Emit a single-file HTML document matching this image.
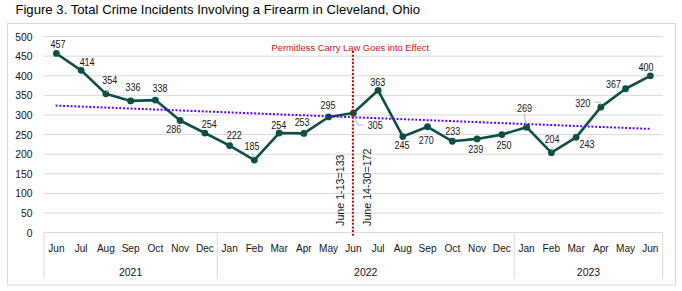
<!DOCTYPE html><html><head><meta charset="utf-8"><style>html,body{margin:0;padding:0;background:#fff;width:682px;height:291px;overflow:hidden}svg{display:block}text{font-family:"Liberation Sans",sans-serif}</style></head><body>
<svg width="682" height="291" viewBox="0 0 682 291">
<rect x="0" y="0" width="682" height="291" fill="#fff"/>
<text x="15.4" y="14" font-size="13" fill="#000" textLength="404.7" lengthAdjust="spacingAndGlyphs">Figure 3. Total Crime Incidents Involving a Firearm in Cleveland, Ohio</text>
<rect x="7.5" y="23.5" width="668" height="261.5" fill="none" stroke="#d9d9d9" stroke-width="1"/>
<line x1="44.0" y1="213.00" x2="662.7" y2="213.00" stroke="#d9d9d9" stroke-width="1"/>
<line x1="44.0" y1="193.40" x2="662.7" y2="193.40" stroke="#d9d9d9" stroke-width="1"/>
<line x1="44.0" y1="173.80" x2="662.7" y2="173.80" stroke="#d9d9d9" stroke-width="1"/>
<line x1="44.0" y1="154.20" x2="662.7" y2="154.20" stroke="#d9d9d9" stroke-width="1"/>
<line x1="44.0" y1="134.60" x2="662.7" y2="134.60" stroke="#d9d9d9" stroke-width="1"/>
<line x1="44.0" y1="115.00" x2="662.7" y2="115.00" stroke="#d9d9d9" stroke-width="1"/>
<line x1="44.0" y1="95.40" x2="662.7" y2="95.40" stroke="#d9d9d9" stroke-width="1"/>
<line x1="44.0" y1="75.80" x2="662.7" y2="75.80" stroke="#d9d9d9" stroke-width="1"/>
<line x1="44.0" y1="56.20" x2="662.7" y2="56.20" stroke="#d9d9d9" stroke-width="1"/>
<line x1="44.0" y1="36.60" x2="662.7" y2="36.60" stroke="#d9d9d9" stroke-width="1"/>
<line x1="44.0" y1="232.60" x2="662.7" y2="232.60" stroke="#d9d9d9" stroke-width="1"/>
<line x1="44.00" y1="232.60" x2="44.00" y2="278.7" stroke="#d9d9d9" stroke-width="1"/>
<line x1="217.24" y1="232.60" x2="217.24" y2="278.7" stroke="#d9d9d9" stroke-width="1"/>
<line x1="514.21" y1="232.60" x2="514.21" y2="278.7" stroke="#d9d9d9" stroke-width="1"/>
<line x1="662.70" y1="232.60" x2="662.70" y2="278.7" stroke="#d9d9d9" stroke-width="1"/>
<text transform="translate(32.4,236.60) scale(0.94,1)" font-size="11" fill="#141414" text-anchor="end">0</text>
<text transform="translate(32.4,217.00) scale(0.94,1)" font-size="11" fill="#141414" text-anchor="end">50</text>
<text transform="translate(32.4,197.40) scale(0.94,1)" font-size="11" fill="#141414" text-anchor="end">100</text>
<text transform="translate(32.4,177.80) scale(0.94,1)" font-size="11" fill="#141414" text-anchor="end">150</text>
<text transform="translate(32.4,158.20) scale(0.94,1)" font-size="11" fill="#141414" text-anchor="end">200</text>
<text transform="translate(32.4,138.60) scale(0.94,1)" font-size="11" fill="#141414" text-anchor="end">250</text>
<text transform="translate(32.4,119.00) scale(0.94,1)" font-size="11" fill="#141414" text-anchor="end">300</text>
<text transform="translate(32.4,99.40) scale(0.94,1)" font-size="11" fill="#141414" text-anchor="end">350</text>
<text transform="translate(32.4,79.80) scale(0.94,1)" font-size="11" fill="#141414" text-anchor="end">400</text>
<text transform="translate(32.4,60.20) scale(0.94,1)" font-size="11" fill="#141414" text-anchor="end">450</text>
<text transform="translate(32.4,40.60) scale(0.94,1)" font-size="11" fill="#141414" text-anchor="end">500</text>
<text transform="translate(56.37,252) scale(0.92,1)" font-size="11" fill="#141414" text-anchor="middle">Jun</text>
<text transform="translate(81.12,252) scale(0.92,1)" font-size="11" fill="#141414" text-anchor="middle">Jul</text>
<text transform="translate(105.87,252) scale(0.92,1)" font-size="11" fill="#141414" text-anchor="middle">Aug</text>
<text transform="translate(130.62,252) scale(0.92,1)" font-size="11" fill="#141414" text-anchor="middle">Sep</text>
<text transform="translate(155.37,252) scale(0.92,1)" font-size="11" fill="#141414" text-anchor="middle">Oct</text>
<text transform="translate(180.11,252) scale(0.92,1)" font-size="11" fill="#141414" text-anchor="middle">Nov</text>
<text transform="translate(204.86,252) scale(0.92,1)" font-size="11" fill="#141414" text-anchor="middle">Dec</text>
<text transform="translate(229.61,252) scale(0.92,1)" font-size="11" fill="#141414" text-anchor="middle">Jan</text>
<text transform="translate(254.36,252) scale(0.92,1)" font-size="11" fill="#141414" text-anchor="middle">Feb</text>
<text transform="translate(279.11,252) scale(0.92,1)" font-size="11" fill="#141414" text-anchor="middle">Mar</text>
<text transform="translate(303.85,252) scale(0.92,1)" font-size="11" fill="#141414" text-anchor="middle">Apr</text>
<text transform="translate(328.60,252) scale(0.92,1)" font-size="11" fill="#141414" text-anchor="middle">May</text>
<text transform="translate(353.35,252) scale(0.92,1)" font-size="11" fill="#141414" text-anchor="middle">Jun</text>
<text transform="translate(378.10,252) scale(0.92,1)" font-size="11" fill="#141414" text-anchor="middle">Jul</text>
<text transform="translate(402.85,252) scale(0.92,1)" font-size="11" fill="#141414" text-anchor="middle">Aug</text>
<text transform="translate(427.59,252) scale(0.92,1)" font-size="11" fill="#141414" text-anchor="middle">Sep</text>
<text transform="translate(452.34,252) scale(0.92,1)" font-size="11" fill="#141414" text-anchor="middle">Oct</text>
<text transform="translate(477.09,252) scale(0.92,1)" font-size="11" fill="#141414" text-anchor="middle">Nov</text>
<text transform="translate(501.84,252) scale(0.92,1)" font-size="11" fill="#141414" text-anchor="middle">Dec</text>
<text transform="translate(526.59,252) scale(0.92,1)" font-size="11" fill="#141414" text-anchor="middle">Jan</text>
<text transform="translate(551.33,252) scale(0.92,1)" font-size="11" fill="#141414" text-anchor="middle">Feb</text>
<text transform="translate(576.08,252) scale(0.92,1)" font-size="11" fill="#141414" text-anchor="middle">Mar</text>
<text transform="translate(600.83,252) scale(0.92,1)" font-size="11" fill="#141414" text-anchor="middle">Apr</text>
<text transform="translate(625.58,252) scale(0.92,1)" font-size="11" fill="#141414" text-anchor="middle">May</text>
<text transform="translate(650.33,252) scale(0.92,1)" font-size="11" fill="#141414" text-anchor="middle">Jun</text>
<text transform="translate(130.62,276) scale(0.95,1)" font-size="11" fill="#141414" text-anchor="middle">2021</text>
<text transform="translate(365.72,276) scale(0.95,1)" font-size="11" fill="#141414" text-anchor="middle">2022</text>
<text transform="translate(588.46,276) scale(0.95,1)" font-size="11" fill="#141414" text-anchor="middle">2023</text>
<text x="350.3" y="51" font-size="9.6" fill="#d0101a" text-anchor="middle" textLength="157.5" lengthAdjust="spacingAndGlyphs">Permitless Carry Law Goes into Effect</text>
<text transform="translate(343.9,225.9) rotate(-90) scale(0.97,1)" font-size="11" fill="#141414">June 1-13=133</text>
<text transform="translate(371,225.9) rotate(-90) scale(0.97,1)" font-size="11" fill="#141414">June 14-30=172</text>
<polyline points="56.37,53.46 81.12,70.31 105.87,93.83 130.62,100.89 155.37,100.10 180.11,120.49 204.86,133.03 229.61,145.58 254.36,160.08 279.11,133.03 303.85,133.42 328.60,116.96 353.35,113.04 378.10,90.30 402.85,136.56 427.59,126.76 452.34,141.26 477.09,138.91 501.84,134.60 526.59,127.15 551.33,152.63 576.08,137.34 600.83,107.16 625.58,88.74 650.33,75.80" fill="none" stroke="#0d4f47" stroke-width="2.6" stroke-linejoin="round"/>
<circle cx="56.37" cy="53.46" r="3.4" fill="#0d4f47"/>
<circle cx="81.12" cy="70.31" r="3.4" fill="#0d4f47"/>
<circle cx="105.87" cy="93.83" r="3.4" fill="#0d4f47"/>
<circle cx="130.62" cy="100.89" r="3.4" fill="#0d4f47"/>
<circle cx="155.37" cy="100.10" r="3.4" fill="#0d4f47"/>
<circle cx="180.11" cy="120.49" r="3.4" fill="#0d4f47"/>
<circle cx="204.86" cy="133.03" r="3.4" fill="#0d4f47"/>
<circle cx="229.61" cy="145.58" r="3.4" fill="#0d4f47"/>
<circle cx="254.36" cy="160.08" r="3.4" fill="#0d4f47"/>
<circle cx="279.11" cy="133.03" r="3.4" fill="#0d4f47"/>
<circle cx="303.85" cy="133.42" r="3.4" fill="#0d4f47"/>
<circle cx="328.60" cy="116.96" r="3.4" fill="#0d4f47"/>
<circle cx="353.35" cy="113.04" r="3.4" fill="#0d4f47"/>
<circle cx="378.10" cy="90.30" r="3.4" fill="#0d4f47"/>
<circle cx="402.85" cy="136.56" r="3.4" fill="#0d4f47"/>
<circle cx="427.59" cy="126.76" r="3.4" fill="#0d4f47"/>
<circle cx="452.34" cy="141.26" r="3.4" fill="#0d4f47"/>
<circle cx="477.09" cy="138.91" r="3.4" fill="#0d4f47"/>
<circle cx="501.84" cy="134.60" r="3.4" fill="#0d4f47"/>
<circle cx="526.59" cy="127.15" r="3.4" fill="#0d4f47"/>
<circle cx="551.33" cy="152.63" r="3.4" fill="#0d4f47"/>
<circle cx="576.08" cy="137.34" r="3.4" fill="#0d4f47"/>
<circle cx="600.83" cy="107.16" r="3.4" fill="#0d4f47"/>
<circle cx="625.58" cy="88.74" r="3.4" fill="#0d4f47"/>
<circle cx="650.33" cy="75.80" r="3.4" fill="#0d4f47"/>
<line x1="55.60" y1="105.59" x2="650.60" y2="128.91" stroke="#5b00ff" stroke-width="2" stroke-dasharray="2 1.75"/>
<line x1="352.9" y1="51.1" x2="352.9" y2="235.8" stroke="#c80000" stroke-width="2" stroke-dasharray="2 1.653"/>
<polyline points="106.2,93 110,87.9" fill="none" stroke="#a6a6a6" stroke-width="0.8"/>
<polyline points="252.5,153.3 253.9,158" fill="none" stroke="#a6a6a6" stroke-width="0.8"/>
<polyline points="524.5,114.5 525.9,125.9" fill="none" stroke="#a6a6a6" stroke-width="0.8"/>
<polyline points="552.2,147 552,151.2" fill="none" stroke="#a6a6a6" stroke-width="0.8"/>
<polyline points="594.4,102.2 599.8,102.2 600.5,105.3" fill="none" stroke="#a6a6a6" stroke-width="0.8"/>
<polyline points="354.3,116.1 358,125 363.6,125" fill="none" stroke="#a6a6a6" stroke-width="0.8"/>
<text transform="translate(57.95,47.58) scale(0.9,1)" font-size="10" fill="#141414" text-anchor="middle">457</text>
<text transform="translate(87.12,66.35) scale(0.9,1)" font-size="10" fill="#141414" text-anchor="middle">414</text>
<text transform="translate(109.80,84.42) scale(0.9,1)" font-size="10" fill="#141414" text-anchor="middle">354</text>
<text transform="translate(132.95,91.12) scale(0.9,1)" font-size="10" fill="#141414" text-anchor="middle">336</text>
<text transform="translate(159.98,91.90) scale(0.9,1)" font-size="10" fill="#141414" text-anchor="middle">338</text>
<text transform="translate(173.73,133.35) scale(0.9,1)" font-size="10" fill="#141414" text-anchor="middle">286</text>
<text transform="translate(209.27,128.35) scale(0.9,1)" font-size="10" fill="#141414" text-anchor="middle">254</text>
<text transform="translate(234.35,139.35) scale(0.9,1)" font-size="10" fill="#141414" text-anchor="middle">222</text>
<text transform="translate(251.98,149.50) scale(0.9,1)" font-size="10" fill="#141414" text-anchor="middle">185</text>
<text transform="translate(278.75,129.05) scale(0.9,1)" font-size="10" fill="#141414" text-anchor="middle">254</text>
<text transform="translate(302.12,126.42) scale(0.9,1)" font-size="10" fill="#141414" text-anchor="middle">253</text>
<text transform="translate(328.05,108.90) scale(0.9,1)" font-size="10" fill="#141414" text-anchor="middle">295</text>
<text transform="translate(375.20,129.43) scale(0.9,1)" font-size="10" fill="#141414" text-anchor="middle">305</text>
<text transform="translate(377.83,85.53) scale(0.9,1)" font-size="10" fill="#141414" text-anchor="middle">363</text>
<text transform="translate(401.90,148.65) scale(0.9,1)" font-size="10" fill="#141414" text-anchor="middle">245</text>
<text transform="translate(426.20,144.35) scale(0.9,1)" font-size="10" fill="#141414" text-anchor="middle">270</text>
<text transform="translate(452.67,134.50) scale(0.9,1)" font-size="10" fill="#141414" text-anchor="middle">233</text>
<text transform="translate(475.65,152.57) scale(0.9,1)" font-size="10" fill="#141414" text-anchor="middle">239</text>
<text transform="translate(503.95,148.50) scale(0.9,1)" font-size="10" fill="#141414" text-anchor="middle">250</text>
<text transform="translate(524.43,111.80) scale(0.9,1)" font-size="10" fill="#141414" text-anchor="middle">269</text>
<text transform="translate(552.12,142.65) scale(0.9,1)" font-size="10" fill="#141414" text-anchor="middle">204</text>
<text transform="translate(586.88,148.20) scale(0.9,1)" font-size="10" fill="#141414" text-anchor="middle">243</text>
<text transform="translate(582.65,107.05) scale(0.9,1)" font-size="10" fill="#141414" text-anchor="middle">320</text>
<text transform="translate(613.57,87.65) scale(0.9,1)" font-size="10" fill="#141414" text-anchor="middle">367</text>
<text transform="translate(645.93,70.90) scale(0.9,1)" font-size="10" fill="#141414" text-anchor="middle">400</text>
</svg></body></html>
